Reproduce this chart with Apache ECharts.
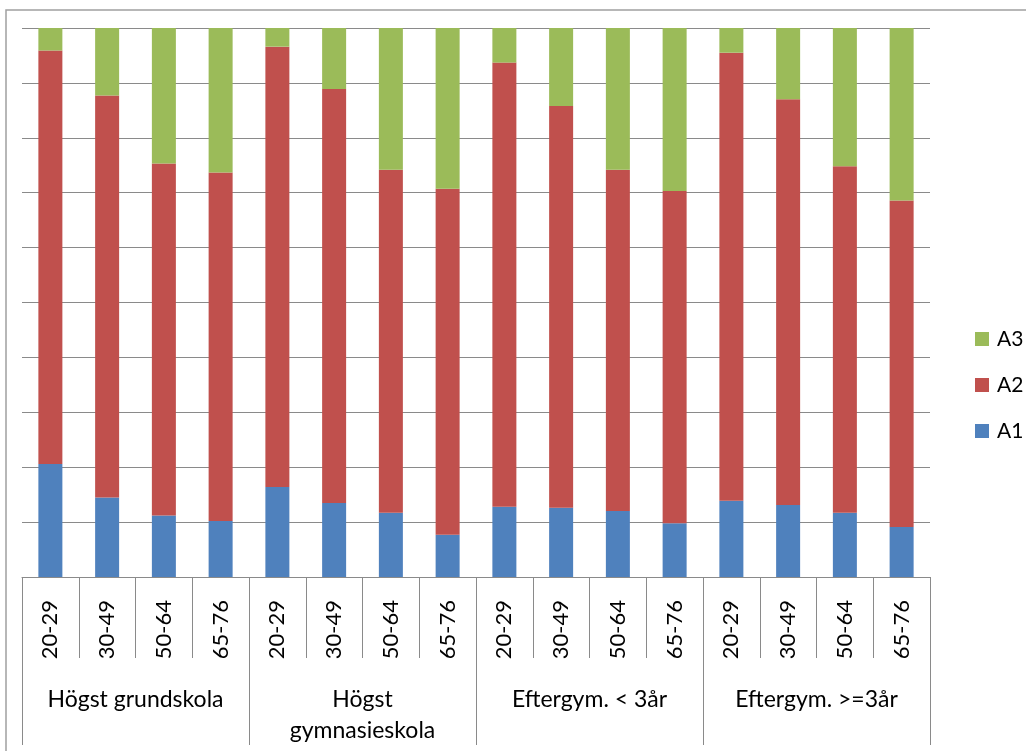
<!DOCTYPE html>
<html>
<head>
<meta charset="utf-8">
<script src="https://cdn.jsdelivr.net/npm/echarts@6/dist/echarts.min.js"></script>
<style>
  html, body { margin: 0; padding: 0; background: #ffffff; }
  #chart { width: 1026px; height: 751px; }
</style>
</head>
<body>
<div id="chart"></div>
<script>
// Age bands inside each education group
const ageBands = ['20-29', '30-49', '50-64', '65-76'];
// Education groups (outer category level)
const groups = ['Högst grundskola', 'Högst\ngymnasieskola', 'Eftergym. < 3år', 'Eftergym. >=3år'];
// Shares (%) per bar, in group order
const A1 = [20.6, 14.5, 11.2, 10.2, 16.4, 13.5, 11.7, 7.7, 12.8, 12.6, 12.0, 9.8, 13.9, 13.1, 11.7, 9.1];
const A2 = [75.3, 73.2, 64.1, 63.5, 80.2, 75.4, 62.5, 63.0, 80.9, 73.2, 62.2, 60.5, 81.6, 73.9, 63.1, 59.5];
const A3 = [4.1, 12.3, 24.7, 26.3, 3.4, 11.1, 25.8, 29.3, 6.3, 14.2, 25.8, 29.7, 4.5, 13.0, 25.2, 31.4];

const categories = [];
groups.forEach(() => ageBands.forEach(a => categories.push(a)));

const FONT = 'Lato';
const lineGray = '#8a8a8a';

const chart = echarts.init(document.getElementById('chart'), null, { renderer: 'canvas' });

chart.setOption({
  animation: false,
  backgroundColor: '#ffffff',
  textStyle: { fontFamily: FONT, color: '#000000' },
  grid: { left: 22, right: 96, top: 28, bottom: 174, containLabel: false },
  legend: {
    orient: 'vertical',
    left: 975,
    top: 328,
    padding: 0,
    data: ['A3', 'A2', 'A1'],
    icon: 'rect',
    itemWidth: 14,
    itemHeight: 14,
    itemGap: 24,
    textStyle: { fontFamily: FONT, fontSize: 21, color: '#000000', padding: [0, 0, 0, 3], lineHeight: 22 }
  },
  xAxis: [
    {
      type: 'category',
      data: categories,
      position: 'bottom',
      axisLine: { show: true, lineStyle: { color: lineGray, width: 1 } },
      axisTick: { show: true, interval: 0, length: 81, lineStyle: { color: lineGray, width: 1 } },
      axisLabel: { interval: 0, rotate: 90, margin: 23, fontFamily: FONT, fontSize: 22, color: '#000000' }
    },
    {
      type: 'category',
      data: groups,
      position: 'bottom',
      offset: 0,
      axisLine: { show: false },
      axisTick: { show: true, interval: 0, length: 168, lineStyle: { color: lineGray, width: 1 } },
      axisLabel: { interval: 0, margin: 107, fontFamily: FONT, fontSize: 23, color: '#000000', lineHeight: 31 }
    }
  ],
  yAxis: {
    type: 'value',
    min: 0,
    max: 100,
    interval: 10,
    axisLine: { show: false },
    axisTick: { show: false },
    axisLabel: { show: false },
    splitLine: { show: true, lineStyle: { color: lineGray, width: 1 } }
  },
  series: [
    { name: 'A1', type: 'bar', stack: 'total', data: A1, barWidth: 24, itemStyle: { color: '#4F81BD' } },
    { name: 'A2', type: 'bar', stack: 'total', data: A2, barWidth: 24, itemStyle: { color: '#C0504D' } },
    { name: 'A3', type: 'bar', stack: 'total', data: A3, barWidth: 24, itemStyle: { color: '#9BBB59' } }
  ],
  graphic: [
    {
      type: 'rect',
      z: -1,
      silent: true,
      shape: { x: 6, y: 10, width: 1200, height: 900 },
      style: { fill: null, stroke: '#a0a0a0', lineWidth: 1.5 }
    }
  ]
});
</script>
</body>
</html>
